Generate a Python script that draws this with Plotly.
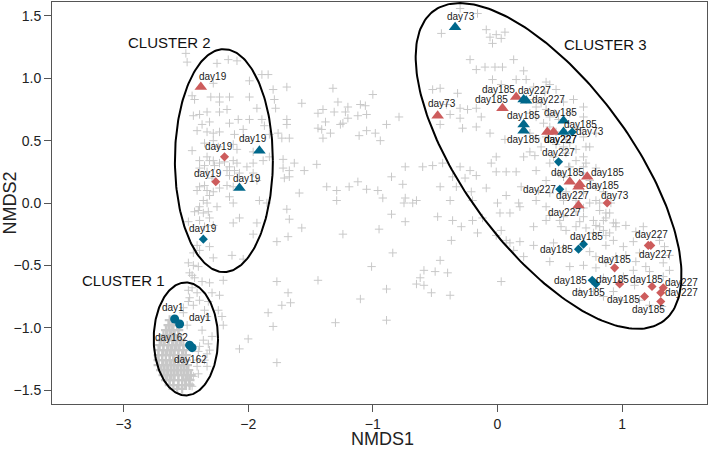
import numpy as np
import plotly.graph_objects as go

# ---------------- background (all samples / OTU scores) ----------------
bg_scores = [
    # cluster 2 region
    (-2.50,1.20),(-2.49,1.13),(-2.25,1.12),(-2.16,1.15),(-2.09,1.14),(-1.99,0.98),(-1.89,1.03),(-1.84,1.03),(-1.80,0.91),
    (-2.45,0.86),(-2.43,0.83),(-2.28,0.96),(-2.30,0.85),(-2.23,0.85),(-2.15,0.85),(-2.23,0.81),(-1.99,0.85),(-1.79,0.83),
    (-1.78,0.76),(-2.44,0.70),(-2.39,0.71),(-2.33,0.73),(-2.23,0.73),(-2.17,0.75),(-1.93,0.76),(-1.89,0.67),(-1.99,0.67),
    (-2.08,0.67),(-2.15,0.64),(-2.31,0.65),(-2.37,0.63),(-2.41,0.58),(-2.33,0.57),(-2.28,0.56),(-2.23,0.57),(-2.11,0.55),
    (-2.04,0.59),(-1.87,0.62),(-1.83,0.55),(-1.76,0.56),(-2.45,0.42),(-2.35,0.48),(-2.28,0.50),(-2.24,0.45),(-2.12,0.47),
    (-2.09,0.43),(-1.96,0.41),(-1.88,0.34),(-1.83,0.37),(-2.39,0.34),(-2.33,0.37),(-2.28,0.34),(-2.23,0.32),(-2.12,0.34),
    (-2.15,0.29),(-2.09,0.32),(-2.01,0.29),(-1.96,0.32),(-2.39,0.28),(-2.33,0.25),(-2.17,0.26),(-2.15,0.22),(-2.07,0.24),
    (-1.96,0.24),(-1.93,0.18),(-2.39,0.13),(-2.33,0.10),(-2.28,0.09),(-2.23,0.12),(-2.17,0.14),(-2.12,0.13),(-2.15,0.05),
    (-2.36,0.02),(-2.33,0.00),(-2.39,-0.03),(-2.25,-0.03),(-2.12,0.00),(-1.91,0.02),(-1.85,0.00),(-2.43,-0.07),(-2.36,-0.08),
    (-2.31,-0.12),(-2.39,-0.14),(-2.35,-0.19),(-2.28,-0.18),(-2.07,-0.12),(-1.93,-0.16),
    (-2.35,0.30),(-2.31,0.34),(-2.27,0.30),(-2.19,0.33),(-2.11,0.26),(-2.29,0.20),(-2.35,0.14),(-2.41,0.10),(-2.31,0.06),
    (-2.40,-0.06),(-2.32,-0.07),
    (-2.48,-0.15),(-2.12,-0.16),(-1.96,-0.25),(-1.77,-0.31),(-2.28,-0.44),(-2.13,-0.42),(-2.04,-0.45),(-2.44,-0.40),
    (-2.39,-0.38),(-2.31,-0.35),(-2.41,-0.34),(-1.77,-0.63),(-1.80,-0.99),(-1.77,-1.28),
    # cluster 1 region
    (-2.48,-0.48),(-2.44,-0.50),(-2.40,-0.51),(-2.47,-0.56),(-2.45,-0.58),(-2.43,-0.60),(-2.37,-0.63),(-2.31,-0.64),
    (-2.20,-0.62),(-2.45,-0.68),(-2.48,-0.70),(-2.41,-0.72),(-2.29,-0.72),(-2.23,-0.74),(-2.47,-0.76),(-2.39,-0.78),
    (-2.32,-0.79),(-2.48,-0.79),(-2.44,-0.82),(-2.52,-0.84),(-2.35,-0.86),(-2.24,-0.86),(-2.52,-0.88),(-2.33,-0.91),
    (-2.21,-0.91),(-2.20,-0.98),(-1.84,-0.88),(-2.56,-0.96),(-2.49,-0.98),(-2.37,-1.02),(-2.29,-1.07),(-2.36,-1.10),
    (-2.32,-1.13),(-2.39,-1.15),(-2.40,-1.19),(-2.33,-1.21),(-2.31,-1.18),(-2.41,-1.26),(-2.35,-1.26),(-2.41,-1.31),
    (-2.33,-1.31),(-2.49,-1.34),(-2.40,-1.37),(-2.48,-1.41),(-2.44,-1.39),(-2.47,-1.45),(-2.51,-1.46),(-2.45,-1.47),
    (-2.00,-1.09),(-2.07,-1.17),
    # middle, upper
    (-1.69,0.93),(-1.32,0.92),(-1.00,0.87),(-1.57,0.80),(-1.28,0.81),(-1.20,0.77),(-1.10,0.79),(-1.06,0.78),(-1.44,0.72),
    (-1.40,0.75),(-1.31,0.73),(-1.22,0.73),(-1.12,0.70),(-1.05,0.71),(-0.79,0.69),(-1.69,0.67),(-1.69,0.63),(-1.38,0.65),
    (-1.26,0.63),(-1.24,0.64),(-1.20,0.68),(-1.44,0.60),(-1.41,0.59),(-1.34,0.56),(-1.05,0.58),(-0.98,0.56),(-0.89,0.63),
    (-1.11,0.54),(-0.94,0.50),(-1.40,0.52),(-1.73,0.52),(-1.67,0.52),(-1.72,0.35),(-1.63,0.32),(-1.45,0.31),(-1.72,0.28),
    (-1.67,0.26),(-1.55,0.26),(-1.71,0.20),(-1.67,0.21),(-0.74,0.29),(-0.60,0.29),(-0.85,0.21),(-1.12,0.17),(-1.37,0.13),
    (-1.29,0.10),(-1.19,0.13),(-1.05,0.11),(-0.96,0.10),(-0.76,0.15),(-1.59,0.08),(-1.29,0.02),(-0.92,0.04),(-0.74,0.04),
    (-0.75,0.00),(-0.68,0.00),(-0.65,0.02),
    # middle, lower
    (-1.69,-0.05),(-1.67,-0.13),(-1.57,-0.20),(-1.68,-0.27),(-1.24,-0.25),(-0.95,-0.21),(-0.85,-0.09),(-0.74,-0.15),
    (-0.84,-0.40),(-1.01,-0.51),(-1.44,-0.62),(-0.59,-0.54),(-0.62,-0.60),(-0.65,-0.65),(-0.59,-0.66),(-0.89,-0.69),
    (-1.10,-0.77),(-1.68,-0.72),(-1.73,-0.82),(-1.66,-0.80),(-1.30,-0.96),(-0.89,-0.94),
    # cluster 3, upper
    (-0.30,1.56),(-0.45,1.36),(-0.16,1.52),(-0.09,1.39),(-0.06,1.33),(-0.01,1.35),(0.03,1.32),(-0.04,1.28),(0.06,1.37),
    (-0.52,0.91),(-0.46,0.92),(-0.32,0.88),(-0.22,1.15),(-0.17,1.07),(-0.10,1.09),(-0.02,1.09),(0.04,1.09),(0.13,1.15),
    (0.21,1.06),(0.23,0.99),(0.39,0.97),(0.42,0.95),(0.15,0.99),(-0.04,0.99),(0.03,0.95),(0.29,0.93),(0.38,0.89),
    (0.47,0.91),(-0.41,0.79),(-0.30,0.76),(-0.24,0.75),(-0.17,0.76),(-0.13,0.69),(-0.30,0.68),(-0.38,0.71),(0.23,0.83),
    (0.29,0.83),(0.31,0.77),(0.35,0.80),(0.39,0.75),(0.42,0.69),(0.46,0.72),(0.26,0.72),(0.31,0.69),(0.58,0.72),
    (0.69,0.77),(0.53,0.81),(0.61,0.83),(0.69,0.69),
    # cluster 3, middle
    (-0.30,0.29),(-0.22,0.26),(-0.36,0.21),(-0.26,0.20),(-0.17,0.22),(-0.05,0.32),(-0.01,0.25),(0.07,0.25),(0.15,0.25),
    (-0.44,0.32),(-0.52,0.30),(-0.46,0.13),(-0.33,0.13),(-0.21,0.09),(-0.09,0.12),(0.07,0.06),(0.18,-0.03),(0.00,0.00),
    (-0.20,0.02),(-0.38,0.02),(-0.48,-0.11),(-0.36,-0.14),(-0.29,-0.19),(-0.20,-0.14),(-0.12,-0.12),(0.02,-0.08),
    (-0.01,-0.26),(-0.16,-0.24),(0.07,-0.30),(0.18,-0.31),(0.29,-0.19),(0.39,-0.14),(0.50,-0.14),(0.57,0.29),(0.55,0.51),
    (0.71,0.45),(0.71,0.32),(0.79,0.28),(0.82,0.00),(0.91,0.00),(0.87,-0.08),(0.77,-0.14),(0.93,-0.16),(0.63,-0.07),
    (0.55,-0.22),(0.63,-0.19),(0.77,-0.24),(0.87,-0.26),
    (-0.46,0.63),(-0.28,0.60),(-0.17,0.61),(-0.06,0.56),(0.06,0.51),(0.26,0.41),(0.30,0.38),(0.21,0.37),(-0.01,0.37),
    (0.49,0.67),(0.37,0.64),(0.42,0.61),(0.47,0.57),(0.39,0.53),(0.31,0.52),(0.26,0.56),(0.55,0.56),(0.69,0.53),
    (0.63,0.60),(0.79,0.56),(0.74,0.45),(0.35,0.45),(0.47,0.47),(0.53,0.45),(0.58,0.48),(0.63,0.43),(0.55,0.40),
    (0.63,0.34),(0.69,0.37),(0.69,0.29),(0.58,0.29),(0.45,0.37),(0.42,0.32),(0.31,0.26),(0.39,0.18),(0.33,0.10),
    (0.42,0.08),(0.19,0.13),(0.74,0.18),(0.79,0.13),(0.85,0.09),(0.79,0.02),(0.74,0.00),(0.69,-0.04),(0.82,-0.06),
    (0.90,-0.08),(0.87,-0.12),(0.85,-0.14),(0.95,-0.16),(0.53,-0.11),(0.42,-0.10),(0.39,-0.03),(0.31,0.02),(0.17,0.00),
    (0.10,-0.08),(0.49,0.24),(0.53,0.21),(0.69,0.24),(0.69,0.08),(0.55,0.09),(0.53,0.02),(0.63,0.02),(0.69,-0.11),
    (0.82,-0.19),
    # cluster 3, lower
    (0.51,-0.19),(0.66,-0.15),(0.71,-0.20),(0.79,-0.18),(0.85,-0.22),(0.90,-0.24),(0.95,-0.19),(1.03,-0.18),(1.11,-0.23),
    (1.17,-0.19),(0.45,-0.32),(0.53,-0.36),(0.74,-0.39),(0.79,-0.43),(0.87,-0.34),(0.93,-0.30),(1.01,-0.35),(1.09,-0.31),
    (1.14,-0.40),(1.03,-0.42),(0.95,-0.43),(0.87,-0.48),(0.69,-0.50),(0.58,-0.51),(0.79,-0.52),(1.11,-0.47),(1.19,-0.51),
    (1.22,-0.55),(1.09,-0.54),(0.85,-0.60),(1.01,-0.59),(1.10,-0.66),(1.33,-0.59),(1.38,-0.54),(1.33,-0.48),(1.38,-0.42),
    (1.34,-0.35),(1.30,-0.30),(0.29,-0.34),(0.13,-0.38),(0.10,-0.32),(0.03,-0.22),(0.03,-0.63),(0.21,-0.43),(0.42,-0.47),
    (0.66,-0.71),(0.77,-0.71),(0.93,-0.71),(0.85,-0.75),(0.99,-0.78),(1.14,-0.78),(1.22,-0.82),(1.32,-0.83),
    (-0.46,-0.46),(-0.37,-0.30),(-0.50,-0.55),(-0.40,-0.56),(-0.53,-0.72),(-0.38,-0.74),
]
# very dense core of cluster 1 (overlapping scores)
core_scores = [
    (-2.63,-0.94),(-2.59,-0.94),
    (-2.64,-0.98),(-2.61,-0.98),(-2.57,-0.98),
    (-2.66,-1.02),(-2.63,-1.02),(-2.60,-1.02),(-2.56,-1.02),
    (-2.68,-1.06),(-2.65,-1.06),(-2.62,-1.06),(-2.59,-1.06),(-2.56,-1.06),
    (-2.70,-1.10),(-2.67,-1.10),(-2.64,-1.10),(-2.60,-1.10),(-2.57,-1.10),(-2.54,-1.10),
    (-2.71,-1.14),(-2.68,-1.14),(-2.64,-1.14),(-2.61,-1.14),(-2.58,-1.14),(-2.55,-1.14),(-2.52,-1.14),
    (-2.72,-1.18),(-2.68,-1.18),(-2.65,-1.18),(-2.62,-1.18),(-2.59,-1.18),(-2.56,-1.18),(-2.52,-1.18),
    (-2.72,-1.22),(-2.69,-1.22),(-2.66,-1.22),(-2.63,-1.22),(-2.60,-1.22),(-2.56,-1.22),(-2.53,-1.22),(-2.50,-1.22),
    (-2.72,-1.26),(-2.69,-1.26),(-2.66,-1.26),(-2.63,-1.26),(-2.60,-1.26),(-2.56,-1.26),(-2.53,-1.26),(-2.50,-1.26),
    (-2.72,-1.30),(-2.68,-1.30),(-2.65,-1.30),(-2.62,-1.30),(-2.59,-1.30),(-2.56,-1.30),(-2.52,-1.30),(-2.49,-1.30),
    (-2.70,-1.34),(-2.67,-1.34),(-2.64,-1.34),(-2.60,-1.34),(-2.57,-1.34),(-2.54,-1.34),(-2.51,-1.34),(-2.48,-1.34),
    (-2.68,-1.38),(-2.65,-1.38),(-2.62,-1.38),(-2.59,-1.38),(-2.56,-1.38),(-2.52,-1.38),(-2.49,-1.38),(-2.46,-1.38),
    (-2.66,-1.42),(-2.63,-1.42),(-2.60,-1.42),(-2.56,-1.42),(-2.53,-1.42),(-2.50,-1.42),(-2.47,-1.42),
    (-2.63,-1.46),(-2.60,-1.46),(-2.56,-1.46),(-2.53,-1.46),(-2.50,-1.46),(-2.47,-1.46),
    (-2.57,-1.49),(-2.53,-1.49),
]
bg_nmds1 = [p[0] for p in bg_scores]
bg_nmds2 = [p[1] for p in bg_scores]
core_nmds1 = [p[0] for p in core_scores]
core_nmds2 = [p[1] for p in core_scores]

# ---------------- labelled samples ----------------
samp_nmds1 = [-2.38, -1.91, -2.19, -2.26, -2.07, -2.36, -2.59, -2.55, -2.47, -2.45,
              -0.34, -0.48, 0.15, 0.21, 0.23, 0.04, 0.21, 0.21, 0.53, 0.40,
              0.45, 0.53, 0.60, 0.49, 0.58, 0.72, 0.66, 0.65, 0.50, 0.65,
              0.88, 0.69, 0.65, 1.21, 1.23, 0.94, 0.76, 0.79, 0.98, 1.24,
              1.33, 1.31, 1.18, 1.31]
samp_nmds2 = [0.93, 0.42, 0.37, 0.17, 0.12, -0.29, -0.93, -0.97, -1.14, -1.16,
              1.41, 0.70, 0.85, 0.83, 0.82, 0.76, 0.63, 0.58, 0.66, 0.57,
              0.57, 0.57, 0.57, 0.33, 0.17, 0.21, 0.15, 0.13, 0.11, -0.02,
              0.00, -0.33, -0.37, -0.34, -0.34, -0.52, -0.62, -0.65, -0.65, -0.67,
              -0.68, -0.72, -0.75, -0.79]
samp_day = ["day19", "day19", "day19", "day19", "day19", "day19", "day1", "day1", "day162", "day162",
            "day73", "day73", "day185", "day227", "day227", "day185", "day185", "day185", "day185", "day227",
            "day227", "day185", "day73", "day227", "day185", "day185", "day185", "day227", "day227", "day227",
            "day73", "day185", "day185", "day227", "day227", "day185", "day185", "day185", "day185", "day185",
            "day227", "day227", "day185", "day185"]
samp_group = ["R", "B", "R", "R", "B", "B", "B", "B", "B", "B",
              "B", "R", "R", "B", "B", "R", "B", "B", "B", "R",
              "R", "B", "B", "B", "R", "R", "R", "R", "B", "R",
              "R", "B", "B", "R", "R", "R", "B", "B", "R", "R",
              "R", "R", "R", "R"]
samp_shape = ["tri", "tri", "dia", "dia", "tri", "dia", "circ", "circ", "circ", "circ",
              "tri", "tri", "tri", "tri", "tri", "tri", "tri", "tri", "tri", "tri",
              "tri", "tri", "dia", "dia", "tri", "tri", "tri", "tri", "dia", "tri",
              "dia", "dia", "dia", "dia", "dia", "dia", "dia", "dia", "dia", "dia",
              "dia", "dia", "dia", "dia"]

# label offsets (pixels, right / down) - layout only
label_dx = [12, -6, -6, -8, 8, 0, -2, 20, -18, -2,
            6, 4, -18, 11, 22, -11, 0, 0, -3, 13,
            7, 17, 18, 0, -2, 20, 23, -6, -20, -14,
            8, 3, -22, 3, 5, 0, -22, -7, -7, -6,
            18, 21, -21, -12]
label_dy = [-11, -12, -10, -8, -10, -11, -11, -6, -8, 12,
            -11, -12, -8, -9, -1, -9, -9, 9, -8, 8,
            8, -7, 0, -9, -9, -4, 1, 9, 0, 7,
            -8, -8, 0, -11, 9, -8, 0, 8, -5, -7,
            -5, 0, 3, 8]

# ---------------- cluster ellipses ----------------
ell_name = ["CLUSTER 1", "CLUSTER 2", "CLUSTER 3"]
ell_cx = [-2.50, -2.195, 0.41]
ell_cy = [-1.09, 0.34, 0.297]
ell_a = [0.258, 0.393, 1.548]
ell_b = [0.453, 0.894, 0.669]
ell_angle = [0.0, 0.0, -53.5]
clab_x = [-3.00, -2.63, 0.87]
clab_y = [-0.62, 1.29, 1.27]

x_ticks = [-3, -2, -1, 0, 1]
y_ticks = [-1.5, -1.0, -0.5, 0.0, 0.5, 1.0, 1.5]

COL = {"R": "#CD5C5C", "B": "#00688B"}
SYM = {"tri": "triangle-up", "dia": "diamond", "circ": "circle"}
SIZE = {"tri": 11, "dia": 7, "circ": 9}
FONT = "Liberation Sans, Arial, Helvetica, sans-serif"
GREY = "#c8c8c8"

fig = go.Figure()
fig.add_trace(go.Scatter(x=bg_nmds1, y=bg_nmds2, mode="markers",
                         marker=dict(symbol="cross-thin-open", size=6, color=GREY,
                                     line=dict(color=GREY, width=1)),
                         hoverinfo="skip", showlegend=False))
fig.add_trace(go.Scatter(x=core_nmds1, y=core_nmds2, mode="markers",
                         marker=dict(symbol="cross-thin-open", size=7, color=GREY,
                                     line=dict(color=GREY, width=2.2)),
                         hoverinfo="skip", showlegend=False))

t = np.linspace(0, 2 * np.pi, 241)
for cx, cy, a, b, ang in zip(ell_cx, ell_cy, ell_a, ell_b, ell_angle):
    th = np.deg2rad(ang)
    ex = cx + a * np.cos(t) * np.cos(th) - b * np.sin(t) * np.sin(th)
    ey = cy + a * np.cos(t) * np.sin(th) + b * np.sin(t) * np.cos(th)
    fig.add_trace(go.Scatter(x=ex, y=ey, mode="lines",
                             line=dict(color="black", width=2),
                             hoverinfo="skip", showlegend=False))

for g in ["R", "B"]:
    for s in ["tri", "dia", "circ"]:
        idx = [i for i in range(len(samp_day)) if samp_group[i] == g and samp_shape[i] == s]
        if not idx:
            continue
        fig.add_trace(go.Scatter(
            x=[samp_nmds1[i] for i in idx], y=[samp_nmds2[i] for i in idx],
            mode="markers", marker=dict(symbol=SYM[s], size=SIZE[s], color=COL[g], line=dict(width=0)),
            text=[samp_day[i] for i in idx], showlegend=False))

annotations = []
for i in range(len(samp_day)):
    annotations.append(dict(x=samp_nmds1[i], y=samp_nmds2[i], text=samp_day[i], showarrow=False,
                            xshift=label_dx[i], yshift=-label_dy[i],
                            font=dict(family=FONT, size=10, color="#1a1a1a")))
for name, x, y in zip(ell_name, clab_x, clab_y):
    annotations.append(dict(x=x, y=y, text=name, showarrow=False,
                            font=dict(family=FONT, size=15, color="#111")))
annotations.append(dict(x=0.505, y=0, xref="paper", yref="paper", yanchor="middle", yshift=-35,
                        text="NMDS1", showarrow=False, font=dict(family=FONT, size=18, color="#222")))
annotations.append(dict(x=0, y=0.5, xref="paper", yref="paper", xanchor="center", yanchor="middle",
                        xshift=-42.5, text="NMDS2", textangle=-90,
                        showarrow=False, font=dict(family=FONT, size=18, color="#222")))

axis_common = dict(showgrid=False, zeroline=False, showline=True, linecolor="#555", linewidth=1,
                   mirror=True, ticks="outside", ticklen=7, tickwidth=1, tickcolor="#555",
                   automargin=False,
                   tickfont=dict(family=FONT, size=14, color="#222"))
fig.update_layout(
    width=709, height=452, margin=dict(l=52, r=2, t=2, b=48),
    paper_bgcolor="white", plot_bgcolor="white",
    xaxis=dict(range=[-3.574, 1.681], tickvals=x_ticks, **axis_common),
    yaxis=dict(range=[-1.612, 1.612], tickvals=y_ticks, tickformat=".1f", **axis_common),
    annotations=annotations,
)
fig.write_html("out.html", config={"displayModeBar": False},
               post_script="document.body.style.margin='0';document.body.style.overflow='hidden';")
